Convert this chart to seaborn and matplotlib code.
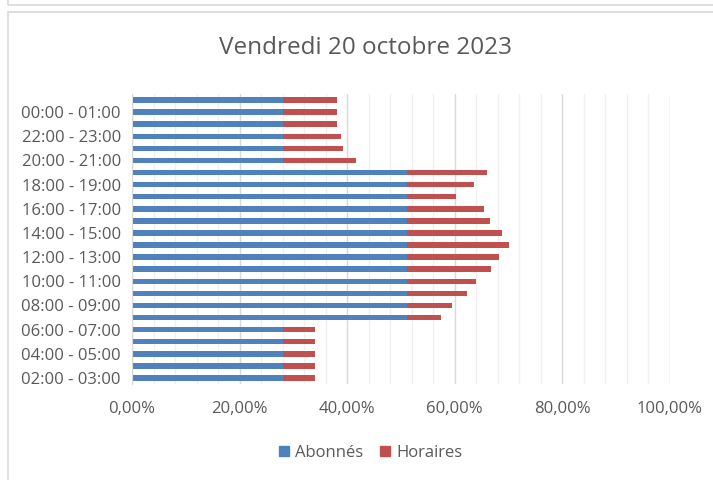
import numpy as np
import pandas as pd
import matplotlib.pyplot as plt
import seaborn as sns
from matplotlib.patches import Rectangle, Patch
from matplotlib.ticker import MultipleLocator, FuncFormatter

# hourly slots, top of chart first
creneaux = ["01:00 - 02:00", "00:00 - 01:00", "23:00 - 00:00", "22:00 - 23:00",
            "21:00 - 22:00", "20:00 - 21:00", "19:00 - 20:00", "18:00 - 19:00",
            "17:00 - 18:00", "16:00 - 17:00", "15:00 - 16:00", "14:00 - 15:00",
            "13:00 - 14:00", "12:00 - 13:00", "11:00 - 12:00", "10:00 - 11:00",
            "09:00 - 10:00", "08:00 - 09:00", "07:00 - 08:00", "06:00 - 07:00",
            "05:00 - 06:00", "04:00 - 05:00", "03:00 - 04:00", "02:00 - 03:00"]
abonnes = [0.281, 0.281, 0.281, 0.281, 0.281, 0.281,
           0.512, 0.512, 0.512, 0.512, 0.512, 0.512,
           0.512, 0.512, 0.512, 0.512, 0.512, 0.512, 0.512,
           0.281, 0.281, 0.281, 0.281, 0.281]
horaires = [0.100, 0.100, 0.100, 0.107, 0.112, 0.136,
            0.148, 0.124, 0.090, 0.142, 0.154, 0.175,
            0.189, 0.170, 0.156, 0.127, 0.110, 0.083, 0.062,
            0.060, 0.060, 0.060, 0.060, 0.060]

df = pd.DataFrame({"creneau": creneaux, "Abonnés": abonnes, "Horaires": horaires})
df["total"] = df["Abonnés"] + df["Horaires"]

bleu = "#4f81bd"
rouge = "#c0504d"
gris = "#595959"

sns.set_style("white")
plt.rcParams["font.family"] = ["Open Sans", "DejaVu Sans"]

fig = plt.figure(figsize=(7.13, 4.8), dpi=100)
ax = fig.add_axes([132 / 713, 1 - 384 / 480, (670 - 132) / 713, 290 / 480])

sns.barplot(data=df, y="creneau", x="total", color=rouge, orient="h",
            width=0.46, order=creneaux, ax=ax, saturation=1, linewidth=0)
sns.barplot(data=df, y="creneau", x="Abonnés", color=bleu, orient="h",
            width=0.46, order=creneaux, ax=ax, saturation=1, linewidth=0)

ax.set_xlim(0, 1.0)
ax.set_ylim(len(creneaux) - 0.5, -0.5)
ax.xaxis.set_major_locator(MultipleLocator(0.2))
ax.xaxis.set_minor_locator(MultipleLocator(0.04))
ax.xaxis.set_major_formatter(FuncFormatter(lambda v, p: f"{v*100:.2f}%".replace(".", ",")))
ax.grid(axis="x", which="major", color="#d9d9d9", lw=1)
ax.grid(axis="x", which="minor", color="#f0f0f0", lw=1)
ax.set_axisbelow(True)

ax.set_yticks(range(1, len(creneaux), 2))
ax.set_yticklabels(creneaux[1::2])
ax.tick_params(axis="both", length=0, labelsize=12, colors=gris, pad=8)
ax.tick_params(axis="x", pad=12)
ax.set_xlabel("")
ax.set_ylabel("")
for s in ["top", "right", "bottom"]:
    ax.spines[s].set_visible(False)
ax.spines["left"].set_color("#d9d9d9")

fig.text(0.513, 1 - 48 / 480, "Vendredi 20 octobre 2023", ha="center", va="center",
         fontsize=17.5, color=gris)

handles = [Patch(color=bleu, label="Abonnés"), Patch(color=rouge, label="Horaires")]
fig.legend(handles=handles, loc="center", bbox_to_anchor=(0.52, 1 - 453 / 480),
           ncol=2, frameon=False, fontsize=12, labelcolor=gris,
           handlelength=0.6, handleheight=0.6, handletextpad=0.4, columnspacing=1.0)

# chart border like the spreadsheet frame
fig.patches.append(Rectangle((8 / 713, -0.01), 1.0, 1 - 12 / 480 + 0.01,
                             transform=fig.transFigure, fill=False,
                             edgecolor="#d9d9d9", lw=1.2))
fig.patches.append(Rectangle((8 / 713, 1 - 5 / 480), 1.0, 0.05,
                             transform=fig.transFigure, fill=False,
                             edgecolor="#d9d9d9", lw=1.2))

fig.savefig("out.png", dpi=100)
